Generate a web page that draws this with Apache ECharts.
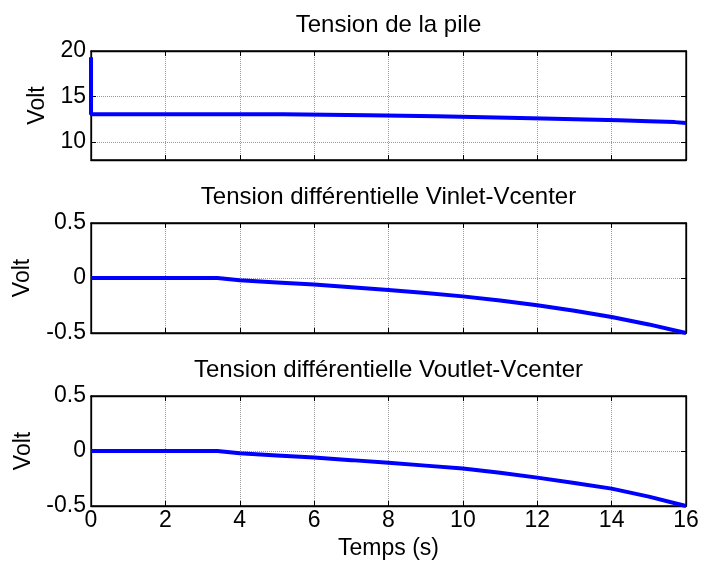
<!DOCTYPE html>
<html>
<head>
<meta charset="utf-8">
<script src="https://cdn.jsdelivr.net/npm/echarts@6/dist/echarts.min.js"></script>
<style>
  html, body { margin:0; padding:0; background:#fff; }
  #chart { width:702px; height:563px; }
</style>
</head>
<body>
<div id="chart"></div>
<script>
// titres des trois sous-graphes
var titles = ['Tension de la pile', 'Tension différentielle Vinlet-Vcenter', 'Tension différentielle Voutlet-Vcenter'];

// tension de la pile (en escalier)
var tTop = [0, 0, 5.16, 7.45, 9.3, 10.9, 12.15, 13.3, 14.2, 15.0, 15.7, 16];
var vTop = [19.3, 13.05, 12.93, 12.81, 12.69, 12.58, 12.47, 12.37, 12.27, 12.17, 12.07, 12.05];

// tensions différentielles
var tDiff = [0, 3.4, 3.4, 4, 5, 6, 7, 8, 9, 10, 11, 12, 13, 14, 15, 16];
var vInlet = [0, 0, -0.008, -0.02, -0.04, -0.06, -0.085, -0.11, -0.137, -0.167, -0.205, -0.248, -0.298, -0.355, -0.422, -0.5];
var vOutlet = [0, 0, -0.008, -0.02, -0.04, -0.06, -0.083, -0.107, -0.133, -0.16, -0.198, -0.242, -0.29, -0.342, -0.415, -0.5];

var xTicks = [0, 2, 4, 6, 8, 10, 12, 14, 16];
var yTicksTop = [10, 15, 20];
var yTicksDiff = [-0.5, 0, 0.5];

var font = 'Liberation Sans, Arial, sans-serif';
var fs = 23;
var fsTitle = 24;
var blue = '#0000ff';

var zip = function(xs, ys){
    return xs.map(function(x, i){ return [x, ys[i]]; });
};

var grids = [
    {left:91, right:16, top:51, height:109},
    {left:91, right:16, top:223, height:110},
    {left:91, right:16, top:396, height:110}
];
grids.forEach(function(g){ g.show = true; g.borderColor = '#000'; g.borderWidth = 1.3; g.containLabel = false; });

var yRanges = [
    {min:8, max:20, ticks:yTicksTop, gap:40},
    {min:-0.5, max:0.5, ticks:yTicksDiff, gap:57},
    {min:-0.5, max:0.5, ticks:yTicksDiff, gap:47}
];

var xAxes = [], yAxes = [];
for (var i = 0; i < 3; i++) {
    var last = (i == 2);
    // axe du bas
    xAxes.push({
        type:'value', gridIndex:i, position:'bottom', min:0, max:16, interval:2,
        axisLine:{show:true, onZero:false, lineStyle:{color:'#000', width:1.3}},
        axisTick:{show:true, inside:true, length:5, lineStyle:{color:'#000'}},
        axisLabel:{show:last, customValues:xTicks, color:'#000', fontFamily:font, fontSize:fs, margin:3},
        splitLine:{show:true, lineStyle:{color:'#999', type:'dotted', width:1}},
        name: last ? 'Temps (s)' : '', nameLocation:'middle', nameGap:31,
        nameTextStyle:{color:'#000', fontFamily:font, fontSize:fs}
    });
    // axe du haut : porte le titre
    xAxes.push({
        type:'value', gridIndex:i, position:'top', min:0, max:16, interval:2,
        axisLine:{show:true, onZero:false, lineStyle:{color:'#000', width:1.3}},
        axisTick:{show:true, inside:true, length:5, lineStyle:{color:'#000'}},
        axisLabel:{show:false}, splitLine:{show:false},
        name:titles[i], nameLocation:'middle', nameGap:14,
        nameTextStyle:{color:'#000', fontFamily:font, fontSize:fsTitle}
    });
    var r = yRanges[i];
    yAxes.push({
        type:'value', gridIndex:i, position:'left', min:r.min, max:r.max,
        axisLine:{show:true, onZero:false, lineStyle:{color:'#000', width:1.3}},
        axisTick:{show:true, inside:true, length:5, customValues:r.ticks, lineStyle:{color:'#000'}},
        axisLabel:{show:true, customValues:r.ticks, color:'#000', fontFamily:font, fontSize:fs, margin:5},
        splitLine:{show:true, lineStyle:{color:'#999', type:'dotted', width:1}},
        name:'Volt', nameLocation:'middle', nameGap:r.gap,
        nameTextStyle:{color:'#000', fontFamily:font, fontSize:fs}
    });
    yAxes.push({
        type:'value', gridIndex:i, position:'right', min:r.min, max:r.max,
        axisLine:{show:true, onZero:false, lineStyle:{color:'#000', width:1.3}},
        axisTick:{show:true, inside:true, length:5, customValues:r.ticks, lineStyle:{color:'#000'}},
        axisLabel:{show:false}, splitLine:{show:false}
    });
}

var lineSeries = function(idx, data, step){
    return {
        type:'line', xAxisIndex:idx*2, yAxisIndex:idx*2, data:data,
        step:step, showSymbol:false, animation:false, clip:false,
        lineStyle:{color:blue, width:4}
    };
};

var chart = echarts.init(document.getElementById('chart'), null, {renderer:'canvas'});
chart.setOption({
    animation:false,
    backgroundColor:'#fff',
    grid:grids,
    xAxis:xAxes,
    yAxis:yAxes,
    series:[
        lineSeries(0, zip(tTop, vTop), 'end'),
        lineSeries(1, zip(tDiff, vInlet), false),
        lineSeries(2, zip(tDiff, vOutlet), false)
    ]
});
</script>
</body>
</html>
